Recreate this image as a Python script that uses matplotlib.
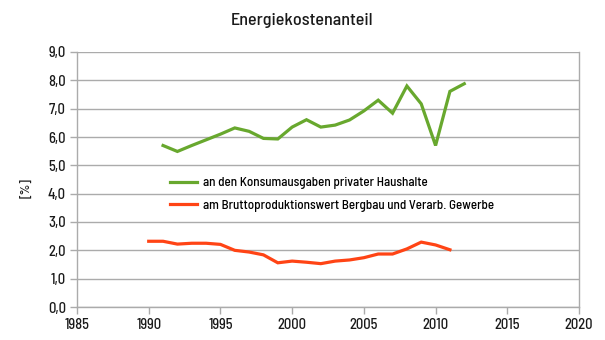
import matplotlib
matplotlib.use("Agg")
import matplotlib.pyplot as plt
from matplotlib.ticker import FuncFormatter

plt.rcParams["font.family"] = ["Barlow Semi Condensed", "DejaVu Sans"]
plt.rcParams["font.weight"] = 500

# data
years_hh = list(range(1991, 2013))
share_hh = [5.70, 5.49, 5.70, 5.90, 6.10, 6.32, 6.20, 5.95, 5.93, 6.35, 6.61,
            6.35, 6.42, 6.60, 6.92, 7.30, 6.84, 7.80, 7.17, 5.70, 7.61, 7.88]
years_ind = list(range(1990, 2012))
share_ind = [2.32, 2.32, 2.22, 2.25, 2.25, 2.21, 2.00, 1.94, 1.84, 1.56, 1.62,
             1.58, 1.53, 1.62, 1.66, 1.74, 1.87, 1.87, 2.05, 2.29, 2.19, 2.02]
labels = ["an den Konsumausgaben privater Haushalte",
          "am Bruttoproduktionswert Bergbau und Verarb. Gewerbe"]

grey = "#ABABAB"
ink = "#1A1A1A"

fig = plt.figure(figsize=(6.05, 3.40), dpi=100)
# axes box: x 77..579 px, y 52..307 px
ax = fig.add_axes([77 / 605, 33 / 340, 502 / 605, 255 / 340])

ax.plot(years_hh, share_hh, color="#68A82E", lw=2.3, label=labels[0],
        solid_joinstyle="miter")
ax.plot(years_ind, share_ind, color="#FF4415", lw=2.3, label=labels[1],
        solid_joinstyle="miter")

ax.set_xlim(1985, 2020)
ax.set_ylim(0, 9)
ax.set_xticks(range(1985, 2021, 5))
ax.set_yticks(range(0, 10))
ax.yaxis.set_major_formatter(FuncFormatter(lambda v, p: f"{v:.1f}".replace(".", ",")))

ax.grid(axis="y", color=grey, lw=1)
ax.set_axisbelow(True)
for side in ["left", "bottom", "right"]:
    ax.spines[side].set_color(grey)
    ax.spines[side].set_linewidth(1)
ax.spines["top"].set_visible(False)
ax.tick_params(colors=grey, labelcolor=ink, length=5, width=1,
               labelsize=10.5, pad=3)

fig.text(27 / 605, 1 - 188 / 340, "[%]", rotation=90, fontsize=9.5,
         color=ink, ha="center", va="center")
fig.text(0.5, 1 - 21 / 340, "Energiekostenanteil", fontsize=13, color=ink,
         ha="center", va="center")

ax.legend(loc="upper left", bbox_to_anchor=(0.162, 0.555), frameon=False,
          fontsize=9.4, handlelength=2.1, handletextpad=0.4, labelspacing=0.8)

fig.savefig("out.png", dpi=100)
